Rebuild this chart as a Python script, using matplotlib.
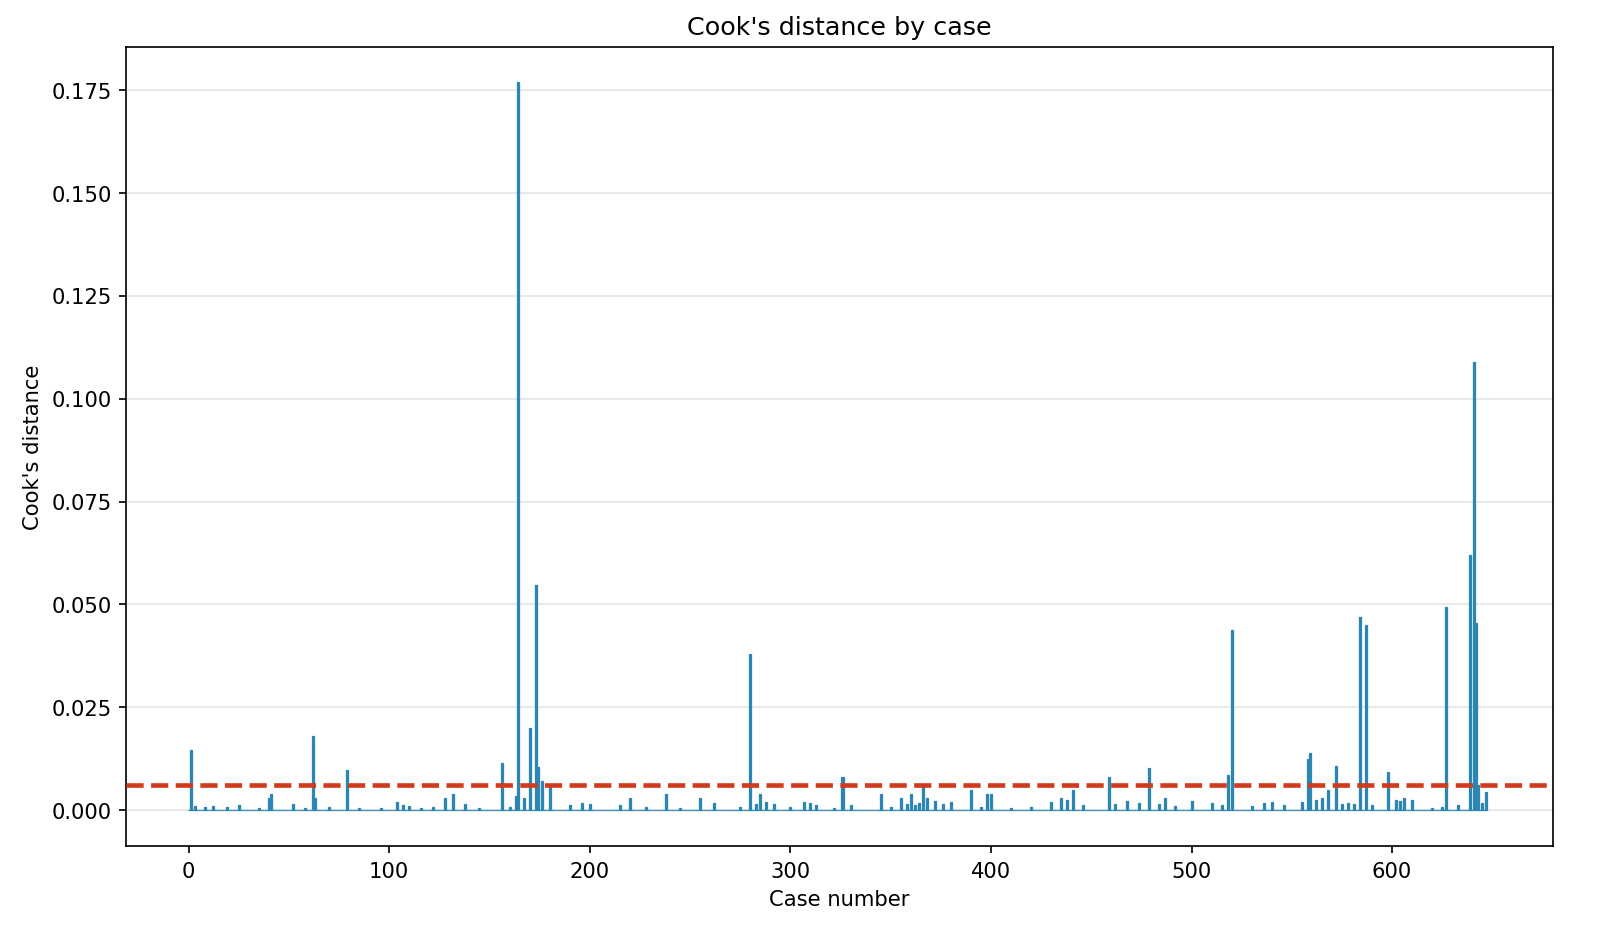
import matplotlib
matplotlib.use("Agg")
import matplotlib.pyplot as plt
import numpy as np

N_CASES = 648
THRESHOLD = 4 / N_CASES

# notable cases (case index -> Cook's distance)
spike_cases = [1, 3, 40, 41, 62, 63, 79, 104, 128, 132, 156, 163, 164, 167, 170,
               173, 174, 176, 180, 220, 238, 255, 280, 285, 288, 307, 326, 345,
               355, 360, 366, 368, 390, 398, 400, 435, 441, 459, 479, 487, 518,
               520, 558, 559, 565, 568, 572, 584, 587, 598, 606, 627, 639, 641,
               642, 643, 647]
spike_values = [0.0146, 0.001, 0.003, 0.004, 0.018, 0.003, 0.0097, 0.002, 0.003,
                0.004, 0.0115, 0.0035, 0.177, 0.003, 0.020, 0.0548, 0.0105, 0.007,
                0.006, 0.003, 0.004, 0.003, 0.038, 0.004, 0.002, 0.002, 0.008,
                0.004, 0.003, 0.004, 0.006, 0.003, 0.005, 0.004, 0.004, 0.003,
                0.005, 0.008, 0.0103, 0.003, 0.0085, 0.0437, 0.0125, 0.014, 0.003,
                0.005, 0.0107, 0.047, 0.0451, 0.0093, 0.003, 0.0494, 0.062, 0.109,
                0.0455, 0.006, 0.0045]

# small bars scattered along the baseline
small_cases = [8, 12, 19, 25, 35, 52, 58, 70, 85, 96, 107, 110, 116, 122, 138,
               145, 160, 190, 196, 200, 215, 228, 245, 262, 275, 283, 292, 300,
               310, 313, 322, 330, 350, 358, 362, 364, 372, 376, 380, 395, 410,
               420, 430, 438, 446, 462, 468, 474, 484, 492, 500, 510, 515, 530,
               536, 540, 546, 555, 562, 575, 578, 581, 590, 602, 604, 610, 620,
               625, 633, 645]
small_values = [0.0008, 0.0009, 0.0007, 0.0012, 0.0006, 0.0015, 0.0005, 0.0008,
                0.0006, 0.0005, 0.0012, 0.0009, 0.0006, 0.0008, 0.0015, 0.0006,
                0.0007, 0.0012, 0.0018, 0.0016, 0.0012, 0.0008, 0.0006, 0.0018,
                0.0007, 0.0015, 0.0014, 0.0007, 0.0018, 0.0012, 0.0006, 0.0012,
                0.0008, 0.0015, 0.0012, 0.0018, 0.0022, 0.0016, 0.0020, 0.0008,
                0.0006, 0.0008, 0.0020, 0.0025, 0.0012, 0.0015, 0.0022, 0.0018,
                0.0015, 0.0010, 0.0022, 0.0018, 0.0012, 0.0010, 0.0018, 0.0020,
                0.0012, 0.0020, 0.0025, 0.0015, 0.0018, 0.0015, 0.0012, 0.0025,
                0.0022, 0.0025, 0.0006, 0.0008, 0.0012, 0.0018]

cooks = np.zeros(N_CASES)
cooks[small_cases] = small_values
cooks[spike_cases] = spike_values
cases = np.arange(N_CASES)

fig, ax = plt.subplots(figsize=(10.53, 6.26), dpi=152)
fig.subplots_adjust(left=0.079, right=0.97, top=0.95, bottom=0.11)

ax.bar(cases, cooks, width=1.0, color="#2b86b3", edgecolor="#2b86b3",
       linewidth=0.6, zorder=2)
ax.axhline(THRESHOLD, color="#d13a1c", linestyle="--", linewidth=2.2, zorder=3)

ax.set_xlim(-31, 680)
ax.set_ylim(-0.0088, 0.1855)
ax.set_yticks(np.arange(0, 0.176, 0.025))
ax.yaxis.set_major_formatter(matplotlib.ticker.FormatStrFormatter("%.3f"))
ax.grid(axis="y", color="#e6e6e6", linewidth=0.8, zorder=0)
ax.set_axisbelow(True)

ax.set_title("Cook's distance by case", fontsize=12)
ax.set_xlabel("Case number")
ax.set_ylabel("Cook's distance")

fig.savefig("out.png", dpi=152, facecolor="white")
